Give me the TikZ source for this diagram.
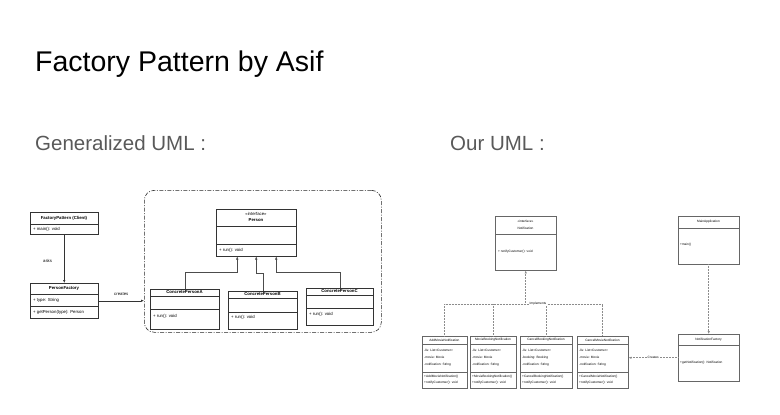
\documentclass[tikz,border=0pt]{standalone}
\usepackage{fontspec}
\setmainfont{Liberation Sans}
\usetikzlibrary{arrows.meta}
\definecolor{subgray}{HTML}{595959}
\def\umlfont{\fontsize{4.3}{5}\selectfont}
\def\ourfont{\fontsize{3.2}{4}\selectfont}
\newcommand{\divider}[4][black!80]{\draw[#1, line width=0.4pt] (#2,#4) -- (#3,#4);}
\tikzset{
  cls/.style={draw=black!80, line width=0.5pt, inner sep=0pt, anchor=north west},
  ourcls/.style={draw=black!60, line width=0.45pt, inner sep=0pt, anchor=north west},
  hd/.style={font=\umlfont\bfseries, inner sep=0pt},
  tx/.style={font=\umlfont, inner sep=0pt, anchor=west},
  ohd/.style={font=\ourfont, inner sep=0pt},
  otx/.style={font=\ourfont, inner sep=0pt, anchor=west},
  link/.style={draw=black!80, line width=0.5pt, -{Latex[length=3pt,width=2.4pt]}},
  gen/.style={draw=black!70, line width=0.5pt, -{Latex[length=3pt,width=2.6pt]}},
  ourlink/.style={draw=black!45, line width=0.5pt, densely dotted},
  grp/.style={draw=black!85, line width=0.6pt, rounded corners=10pt,
    dash pattern=on 4pt off 1.5pt on 1pt off 1.5pt, inner sep=0pt, anchor=north west}
}
\begin{document}
\begin{tikzpicture}[x=1pt, y=-1pt]
    \useasboundingbox (0,0) rectangle (780,415);
    % headings
    \node[anchor=base west, inner sep=0pt, font=\fontsize{28.5}{32}\selectfont] (title) at (35,71) {Factory Pattern by Asif};
    \node[anchor=base west, inner sep=0pt, text=subgray, font=\fontsize{20.5}{24}\selectfont] (genhead) at (35,150) {Generalized UML :};
    \node[anchor=base west, inner sep=0pt, text=subgray, font=\fontsize{20.5}{24}\selectfont] (ourhead) at (450,150) {Our UML :};

    % generalized UML
    \node[cls, minimum width=68pt, minimum height=22pt] (client) at (30,212) {};
    \divider{30}{98}{224}
    \node[hd] at (64,218) {FactoryPattern (Client)};
    \node[tx] at (33,229.5) {+ main(): void};

    \node[cls, minimum width=68pt, minimum height=35pt] (factory) at (30,283) {};
    \divider{30}{98}{294}
    \divider{30}{98}{306}
    \node[hd] at (64,288.5) {PersonFactory};
    \node[tx] at (33,300) {+ type: String};
    \node[tx] at (33,312) {+ getPerson(type): Person};

    \node[grp, minimum width=237pt, minimum height=142pt] (group) at (144,190) {};

    \node[cls, minimum width=80pt, minimum height=47pt] (person) at (216,209) {};
    \divider{216}{296}{226}
    \divider{216}{296}{244}
    \node[font=\umlfont, inner sep=0pt] at (256,214) {<<interface>>};
    \node[hd] at (256,220.5) {Person};
    \node[tx] at (219,250) {+ run(): void};

    \node[cls, minimum width=69pt, minimum height=40pt] (personA) at (150,289) {};
    \divider{150}{219}{296}
    \divider{150}{219}{309}
    \node[hd] at (184.5,292.5) {ConcretePersonA};
    \node[tx] at (153,316) {+ run(): void};

    \node[cls, minimum width=69pt, minimum height=38pt] (personB) at (228,291) {};
    \divider{228}{297}{298}
    \divider{228}{297}{312}
    \node[hd] at (262.5,294.5) {ConcretePersonB};
    \node[tx] at (231,317) {+ run(): void};

    \node[cls, minimum width=67pt, minimum height=37pt] (personC) at (306,288) {};
    \divider{306}{373}{295}
    \divider{306}{373}{308}
    \node[hd] at (339.5,291.5) {ConcretePersonC};
    \node[tx] at (309,314) {+ run(): void};

    \draw[link] (client.south) -- node[pos=0.55, left=12pt, font=\umlfont, inner sep=0pt] (asks) {asks} (factory.north);
    \draw[link] (factory.east) -- node[above=5pt, font=\umlfont, inner sep=0pt] (creates) {creates} (group.west |- factory.east);
    \draw[gen] (personA.north) -- ++(0,-17) -| ([xshift=-19pt]person.south);
    \draw[gen] (personB.north) -- ++(0,-18) -| (person.south);
    \draw[gen] (personC.north) -- ++(0,-16) -| ([xshift=20pt]person.south);

    % our UML
    \node[ourcls, minimum width=61pt, minimum height=54pt] (notif) at (495,216) {};
    \divider[black!60]{495}{556}{234}
    \node[ohd] at (525.5,221) {<<interface>>};
    \node[ohd] at (525.5,228) {Notification};
    \node[otx] at (498,252) {+ notifyCustomer(): void};

    \node[ourcls, minimum width=61pt, minimum height=48pt] (mainapp) at (678,216) {};
    \divider[black!60]{678}{739}{228}
    \node[ohd] at (708.5,222) {MainApplication};
    \node[otx] at (680,245) {+main()};

    \node[ourcls, minimum width=61pt, minimum height=47pt] (nfactory) at (678,334) {};
    \divider[black!60]{678}{739}{345}
    \node[ohd] at (708.5,340) {NotificationFactory};
    \node[otx] at (680,363) {+getNotification(): Notification};

    \node[ourcls, minimum width=45pt, minimum height=52pt] (addmovie) at (422,336) {};
    \divider[black!60]{422}{467}{344}
    \divider[black!60]{422}{467}{372}
    \node[ohd] at (444.5,340) {AddMovieNotification};
    \node[otx] at (424,350.5) {-lis: List<Customer>};
    \node[otx] at (424,357.5) {-movie: Movie};
    \node[otx] at (424,364.5) {-notification: String};
    \node[otx] at (424,377) {+AddMovieNotification()};
    \node[otx] at (424,383) {+notifyCustomer(): void};

    \node[ourcls, minimum width=46pt, minimum height=52pt] (moviebook) at (470,336) {};
    \divider[black!60]{470}{516}{344}
    \divider[black!60]{470}{516}{372}
    \node[ohd] at (493,340) {MovieBookingNotification};
    \node[otx] at (472,350.5) {-lis: List<Customer>};
    \node[otx] at (472,357.5) {-movie: Movie};
    \node[otx] at (472,364.5) {-notification: String};
    \node[otx] at (472,377) {+MovieBookingNotification()};
    \node[otx] at (472,383) {+notifyCustomer(): void};

    \node[ourcls, minimum width=52pt, minimum height=52pt] (cancelbook) at (520,336) {};
    \divider[black!60]{520}{572}{344}
    \divider[black!60]{520}{572}{372}
    \node[ohd] at (546,340) {CancelBookingNotification};
    \node[otx] at (522,350.5) {-lis: List<Customer>};
    \node[otx] at (522,357.5) {-booking: Booking};
    \node[otx] at (522,364.5) {-notification: String};
    \node[otx] at (522,377) {+CancelBookingNotification()};
    \node[otx] at (522,383) {+notifyCustomer(): void};

    \node[ourcls, minimum width=51pt, minimum height=52pt] (cancelmovie) at (577,336) {};
    \divider[black!60]{577}{628}{344}
    \divider[black!60]{577}{628}{372}
    \node[ohd] at (602.5,340) {CancelMovieNotification};
    \node[otx] at (579,350.5) {-lis: List<Customer>};
    \node[otx] at (579,357.5) {-movie: Movie};
    \node[otx] at (579,364.5) {-notification: String};
    \node[otx] at (579,377) {+CancelMovieNotification()};
    \node[otx] at (579,383) {+notifyCustomer(): void};

    \coordinate (bus) at (notif.south |- 0,304);
    \draw[ourlink] (addmovie.north) -- (addmovie.north |- bus) -- (cancelmovie.north |- bus) -- (cancelmovie.north);
    \draw[ourlink] (moviebook.north) -- (moviebook.north |- bus);
    \draw[ourlink] (cancelbook.north) -- (cancelbook.north |- bus);
    \draw[ourlink, -{Latex[length=3pt,width=2.4pt]}] (bus) -- (notif.south);
    \node[ohd, fill=white, inner sep=0.5pt] (implements) at (538,304) {Implements};
    \draw[ourlink, -{Latex[length=3pt,width=2.4pt]}] (mainapp.south) -- (nfactory.north);
    \draw[ourlink, -{Latex[length=3pt,width=2.4pt]}] (nfactory.west) -- node[ohd, fill=white, inner sep=0.5pt] (creates2) {Creates} (cancelmovie.east |- nfactory.west);
\end{tikzpicture}
\end{document}
